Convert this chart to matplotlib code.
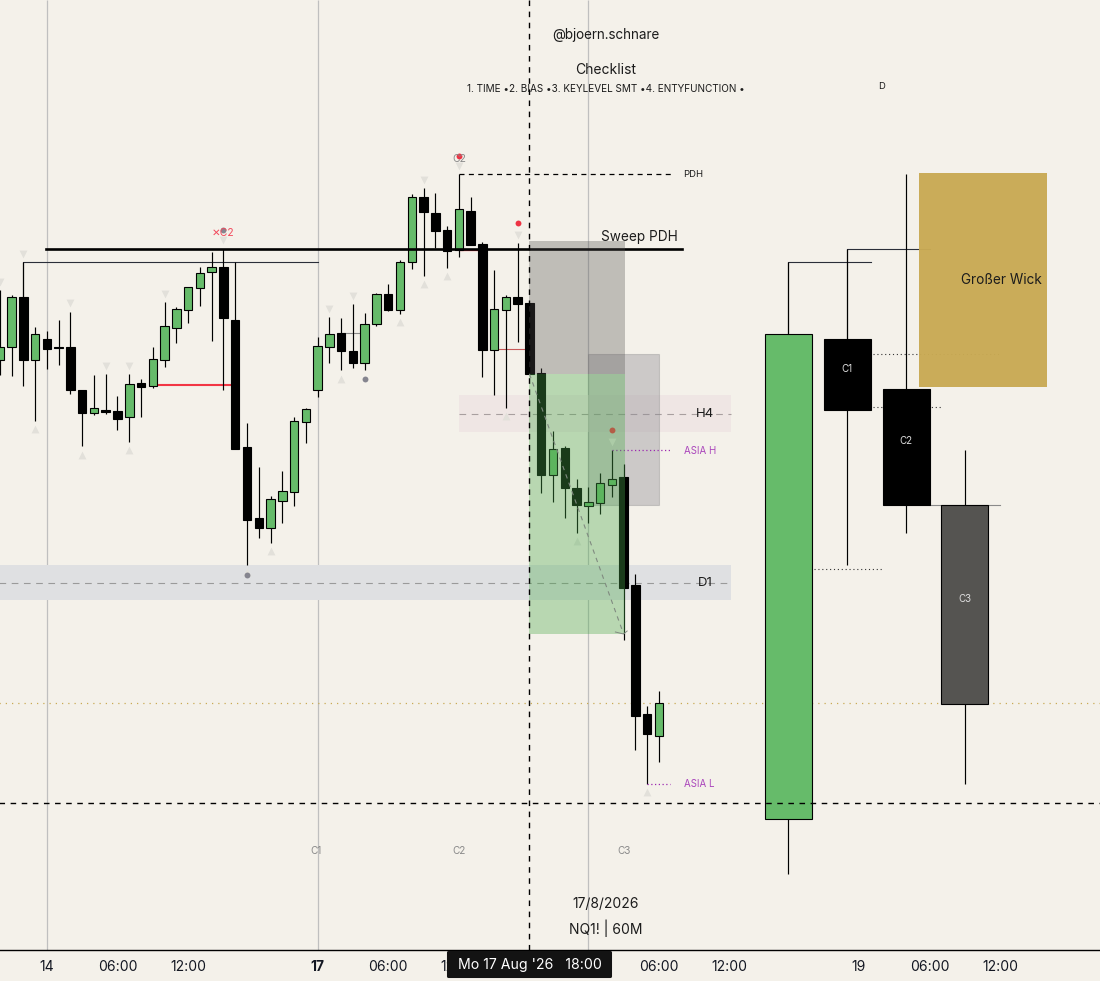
import matplotlib
matplotlib.use('Agg')
import matplotlib.pyplot as plt
from matplotlib import patches

plt.rcParams['font.family'] = ['Inter', 'DejaVu Sans']

# candles: body top, body bottom, high, low (y axis runs downwards, chart units)
body_top = [347, 297, 297, 334, 339, 347, 347, 390, 408, 410, 411, 384, 383, 359, 326, 309, 287, 273, 267, 267,
            320, 447, 518, 499, 491, 421, 409, 346, 334, 333, 351, 324, 294, 294, 262, 197, 197, 213, 230, 209,
            211, 244, 309, 297, 297, 303, 373, 449, 448, 488, 502, 483, 479, 477, 585, 714, 703]
body_bot = [360, 347, 360, 360, 349, 348, 390, 413, 413, 412, 419, 417, 387, 386, 360, 328, 310, 288, 272, 318,
            449, 520, 528, 528, 501, 492, 422, 390, 347, 351, 363, 363, 324, 310, 310, 262, 212, 231, 251, 250,
            245, 350, 350, 310, 304, 374, 475, 475, 488, 505, 506, 503, 485, 588, 716, 734, 736]
highs = [290, 295, 262, 327, 331, 320, 312, 390, 375, 374, 396, 374, 379, 347, 302, 307, 287, 267, 252, 249,
         262, 423, 467, 496, 471, 417, 408, 337, 317, 318, 304, 313, 293, 284, 260, 194, 188, 193, 226, 174,
         197, 242, 270, 295, 243, 303, 368, 431, 446, 479, 487, 473, 450, 464, 574, 706, 691]
lows = [375, 376, 386, 421, 369, 365, 394, 446, 415, 414, 430, 442, 417, 388, 367, 343, 323, 306, 341, 390,
        449, 565, 538, 543, 523, 506, 443, 397, 363, 370, 368, 370, 326, 311, 314, 269, 276, 248, 268, 257,
        245, 377, 395, 408, 342, 374, 493, 502, 518, 533, 523, 514, 497, 640, 750, 784, 762]
is_up = [1, 1, 0, 1, 0, 0, 0, 0, 1, 0, 0, 1, 0, 1, 1, 1, 1, 1, 1, 0,
         0, 0, 0, 1, 1, 1, 1, 1, 1, 0, 0, 1, 1, 0, 1, 1, 0, 0, 0, 1,
         0, 0, 1, 1, 0, 0, 0, 1, 0, 0, 1, 1, 1, 0, 0, 0, 1]

# the four large candles on the right
big_x = [67, 72, 77, 82]
big_top = [334, 339, 389, 505]
big_bot = [819, 410, 505, 704]
big_high = [262, 249, 174, 450]
big_low = [874, 565, 533, 784]
big_colors = ['#66bb6a', '#000000', '#000000', '#555451']
big_labels = ['C1', 'C2', 'C3']
big_label_x = [72, 77, 82]
big_label_y = [369, 441, 599]

# triangles and dots
tri_down_x = [0, 2, 6, 9, 11, 14, 19, 28, 30, 36, 39, 44, 52]
tri_down_y = [282, 254, 303, 366, 366, 294, 240, 309, 296, 180, 166, 235, 442]
tri_up_x = [3, 7, 11, 21, 23, 29, 34, 36, 38, 43, 49, 55]
tri_up_y = [429, 455, 450, 572, 551, 379, 322, 284, 276, 416, 541, 792]
gray_dot_x = [19, 21, 31]
gray_dot_y = [230, 575, 379]
red_dot_x = [39, 44, 52]
red_dot_y = [156, 223, 430]

# axis ticks
tick_pos = [4, 10, 16, 27, 33, 39, 56, 62, 73, 79, 85]
tick_labels = ['14', '06:00', '12:00', '17', '06:00', '12:00', '06:00', '12:00', '19', '06:00', '12:00']
grid_pos = [4, 27, 50]

BG = '#f4f1ea'

fig = plt.figure(figsize=(11, 9.81), dpi=100, facecolor=BG)
ax = fig.add_axes([0, 31 / 981, 1, 950 / 981], facecolor=BG)
ax.set_xlim(0.2 / 11.77, 1100.2 / 11.77)
ax.set_ylim(950, 0)
for s in ['top', 'left', 'right']:
    ax.spines[s].set_visible(False)
ax.spines['bottom'].set_linewidth(1)
ax.yaxis.set_visible(False)
ax.set_xticks(tick_pos)
ax.set_xticklabels(tick_labels, fontsize=10, color='#131722')
ax.tick_params(axis='x', length=0, pad=7.5)
ax.get_xticklabels()[3].set_fontweight('bold')

# grid and zones
ax.vlines(grid_pos, 0, 950, color='#bfbfbf', lw=0.9, zorder=1)
ax.add_patch(patches.Rectangle((-1, 565), 63.1, 35, facecolor='#dfe0e2', edgecolor='none', zorder=1))
ax.add_patch(patches.Rectangle((39, 395), 23.1, 37, facecolor='#efe6e4', edgecolor='none', zorder=1))
ax.plot([-1, 62.1], [582.5, 582.5], color='#9a9a9a', lw=0.8, ls=(0, (6, 5)), zorder=2)
ax.plot([39, 62.1], [413.5, 413.5], color='#a89f9f', lw=0.8, ls=(0, (6, 5)), zorder=2)
ax.plot([-1, 94], [703, 703], color='#c9aa54', lw=0.9, ls=(0, (1, 4)), zorder=2)

# this box stays under the candles
ax.add_patch(patches.Rectangle((50, 354), 6, 151, facecolor='#8c8a92', edgecolor='#8e8e8e', lw=0.8, alpha=0.38, zorder=2))

# wicks and bodies
xs = list(range(len(body_top)))
ax.vlines(xs, highs, lows, color='black', lw=0.85, zorder=3)
colors = ['#66bb6a' if u else 'black' for u in is_up]
heights = [b - t for t, b in zip(body_top, body_bot)]
ax.bar(xs, heights, width=0.72, bottom=body_top, color=colors, edgecolor='black', linewidth=0.8, zorder=3)

ax.vlines(big_x, big_high, big_low, color='black', lw=0.85, zorder=3)
big_heights = [b - t for t, b in zip(big_top, big_bot)]
ax.bar(big_x, big_heights, width=4, bottom=big_top, color=big_colors, edgecolor='black', linewidth=0.8, zorder=3)
for x, y, lab in zip(big_label_x, big_label_y, big_labels):
    ax.text(x, y, lab, color='#dddddd', fontsize=7, ha='center', va='center', zorder=5)

# level lines
ax.plot([2, 2, 27], [297, 262, 262], color='#2a2e39', lw=0.8, zorder=2)
ax.plot([3.9, 58], [249, 249], color='black', lw=1.9, zorder=4)
ax.plot([13, 20], [385, 385], color='#f23645', lw=1.5, zorder=2)
ax.plot([39, 41], [250, 250], color='#f23645', lw=0.9, zorder=2)
ax.plot([42, 45], [349, 349], color='#c85a5a', lw=0.8, zorder=2)
ax.plot([29, 31], [333, 333], color='#8a8a8a', lw=0.8, zorder=2)
ax.plot([39, 57], [174, 174], color='black', lw=0.9, ls=(0, (4, 3.5)), zorder=2)
ax.plot([67, 67, 74], [334, 262, 262], color='#2a2e39', lw=0.8, zorder=2)
ax.plot([72, 72, 79], [339, 249, 249], color='#2a2e39', lw=0.8, zorder=2)
ax.plot([74.2, 85], [354, 354], color='#333333', lw=0.8, ls=(0, (1, 2.5)), zorder=2)
ax.plot([74.2, 80], [407, 407], color='#333333', lw=0.8, ls=(0, (1, 2.5)), zorder=2)
ax.plot([69.2, 75], [569, 569], color='#333333', lw=0.8, ls=(0, (1, 2.5)), zorder=2)
ax.plot([79, 85], [505, 505], color='#8a8a8a', lw=0.8, zorder=2)
ax.plot([52, 57], [450, 450], color='#9c27b0', lw=0.9, ls=(0, (1, 2)), zorder=4)
ax.plot([55, 56.9], [784, 784], color='#9c27b0', lw=0.9, ls=(0, (1, 2)), zorder=4)

# markers
ax.scatter(tri_down_x, tri_down_y, marker='v', s=32, color='#e2e0da', linewidths=0, zorder=2)
ax.scatter(tri_up_x, tri_up_y, marker='^', s=32, color='#e2e0da', linewidths=0, zorder=2)
ax.scatter(gray_dot_x, gray_dot_y, s=18, color='#85858f', linewidths=0, zorder=3)
ax.scatter(red_dot_x, red_dot_y, s=18, color='#ee3344', linewidths=0, zorder=3)

# overlay boxes sit on top of the candles
ax.add_patch(patches.Rectangle((45, 241), 8.1, 133, facecolor='#51504e', edgecolor='none', alpha=0.32, zorder=4))
ax.add_patch(patches.Rectangle((45, 374), 8.1, 260, facecolor='#4aaa4a', edgecolor='none', alpha=0.352, zorder=4))
ax.add_patch(patches.Rectangle((78.12, 173), 10.83, 214, facecolor='#c9aa54', edgecolor='none', alpha=0.97, zorder=4))
ax.plot([45, 53], [374, 634], color='#808a80', lw=0.8, ls=(0, (4, 4)), zorder=4)
ax.plot([52.3, 53, 53.3], [632, 634, 631], color='#808a80', lw=0.7, zorder=4)

# crosshair
ax.plot([45, 45], [0, 950], color='black', lw=1, ls=(0, (4, 4)), zorder=5)
ax.plot([-1, 94], [803, 803], color='black', lw=1, ls=(0, (4, 4)), zorder=5)

# texts
txt = dict(ha='center', va='center', zorder=6, color='#1c1c1c')
ax.text(51.5, 35.5, '@bjoern.schnare', fontsize=9.7, **txt)
ax.text(51.5, 69.5, 'Checklist', fontsize=10, **txt)
ax.text(51.5, 89.5, '1. TIME •2. BIAS •3. KEYLEVEL SMT •4. ENTYFUNCTION •', fontsize=7.2, **txt)
ax.text(74.9, 86.5, 'D', fontsize=6.8, **txt)
ax.text(58.9, 174.5, 'PDH', fontsize=6.8, **txt)
ax.text(54.3, 237.5, 'Sweep PDH', fontsize=9.8, **txt)
ax.text(59.9, 414, 'H4', fontsize=9.5, **txt)
ax.text(59.95, 583, 'D1', fontsize=9.5, **txt)
ax.text(85.1, 280.5, 'Großer Wick', fontsize=9.8, **txt)
ax.text(51.5, 904.5, '17/8/2026', fontsize=10, **txt)
ax.text(51.5, 928, 'NQ1! | 60M', fontsize=10, **txt)
ax.text(59.5, 450.5, 'ASIA H', fontsize=7, ha='center', va='center', color='#ab47bc', zorder=6)
ax.text(59.4, 784, 'ASIA L', fontsize=7, ha='center', va='center', color='#ab47bc', zorder=6)
ax.text(18.95, 233, '✕C2', fontsize=7.5, ha='center', va='center', color='#f2495c', zorder=6)
ax.text(39, 159, 'C2', fontsize=7.5, ha='center', va='center', color='#8a8a8a', zorder=6)
ax.text(26.9, 851.5, 'C1', fontsize=7.2, ha='center', va='center', color='#8a8a8a', zorder=6)
ax.text(39, 851.5, 'C2', fontsize=7.2, ha='center', va='center', color='#8a8a8a', zorder=6)
ax.text(53, 851.5, 'C3', fontsize=7.2, ha='center', va='center', color='#8a8a8a', zorder=6)

# crosshair date label
ax.add_patch(patches.Rectangle((38.05, 951.5), 13.8, 24, facecolor='#131313', edgecolor='#131313', lw=2.2,
                               joinstyle='round', clip_on=False, zorder=9))
ax.text(45, 965, "Mo 17 Aug '26   18:00", fontsize=10.2, color='white', ha='center', va='center', clip_on=False, zorder=10)

fig.savefig('out.png', dpi=100, facecolor=BG)
